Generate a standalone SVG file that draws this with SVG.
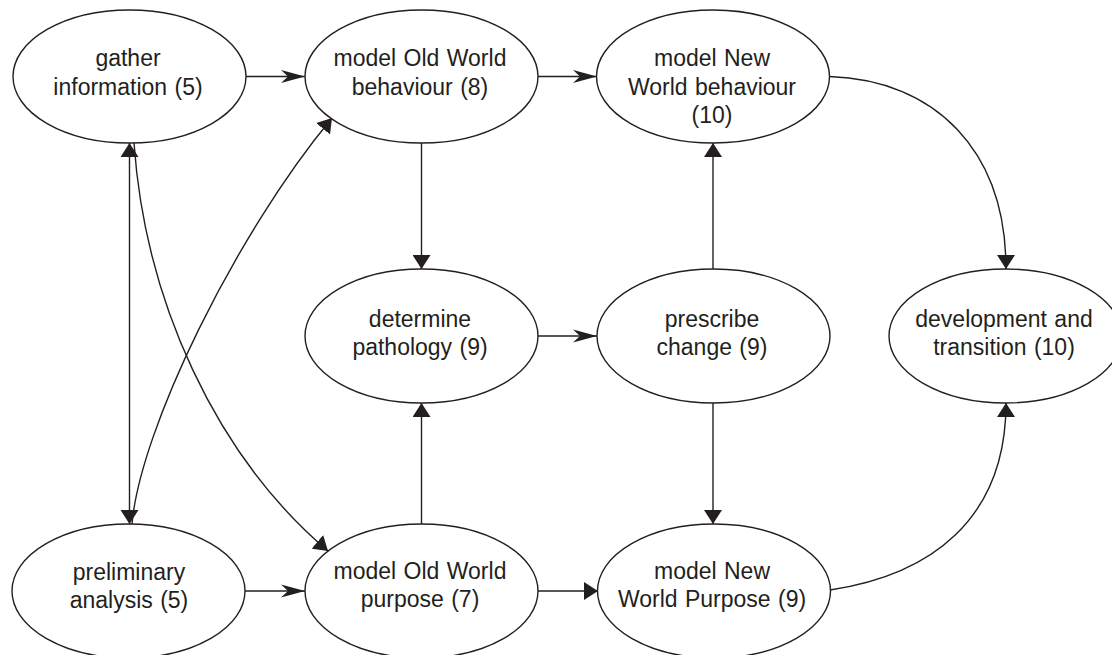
<svg xmlns="http://www.w3.org/2000/svg" width="1112" height="655" viewBox="0 0 1112 655">
  <style>
    .node ellipse { fill: #ffffff; stroke: #231f20; stroke-width: 1.4; }
    .node text { font-family: "Liberation Sans", Arial, Helvetica, sans-serif; font-size: 23px; fill: #231f20; text-anchor: middle; word-spacing: 1px; }
    .edge { fill: none; stroke: #231f20; stroke-width: 1.4; }
    .tri { marker-end: url(#tri); }
    .stealth { marker-end: url(#stealth); }
  </style>
  <defs>
    <!-- filled triangular head -->
    <marker id="tri" viewBox="0 0 14 18" refX="14" refY="9" markerWidth="14" markerHeight="18" markerUnits="userSpaceOnUse" orient="auto-start-reverse">
      <path d="M0,0 L14,9 L0,18 Z" fill="#231f20"/>
    </marker>
    <!-- notched (stealth) head -->
    <marker id="stealth" viewBox="0 0 24 14" refX="24" refY="7" markerWidth="24" markerHeight="14" markerUnits="userSpaceOnUse" orient="auto">
      <path d="M0,0.5 L24,7 L0,13.5 L7,7 Z" fill="#231f20"/>
    </marker>
  </defs>

  <rect width="1112" height="655" fill="#ffffff"/>

  <!-- connectors -->
  <g id="connectors">
    <path class="edge stealth" d="M246,76.5 H305"/>
    <path class="edge stealth" d="M538,76.5 H597"/>
    <path class="edge tri" d="M829.5,76.5 C935,80 1006,150 1006,269"/>
    <path class="edge tri" d="M421.5,143 V269"/>
    <path class="edge tri" d="M421.5,524 V403"/>
    <path class="edge stealth" d="M538,336 H597"/>
    <path class="edge tri" d="M713,269 V143"/>
    <path class="edge tri" d="M713,403 V524"/>
    <path class="edge tri" d="M830,590 C930,575 1006,520 1006,403"/>
    <path class="edge tri" d="M129.5,143 V524" marker-start="url(#tri)"/>
    <path class="edge tri" d="M134,143 C145,300 215,455 328,551"/>
    <path class="edge tri" d="M132,524 C140,430 235,235 332,118"/>
    <path class="edge stealth" d="M245,591 H305"/>
    <path class="edge tri" d="M538,591 H598"/>
  </g>

  <!-- nodes -->
  <g id="gather-information" class="node">
    <ellipse cx="129.5" cy="76.5" rx="116.5" ry="66.5"/>
    <text x="128" y="66">gather</text>
    <text x="128" y="94.5">information (5)</text>
  </g>
  <g id="model-old-world-behaviour" class="node">
    <ellipse cx="421.5" cy="76.5" rx="116.5" ry="66.5"/>
    <text x="420" y="66">model Old World</text>
    <text x="420" y="94.5">behaviour (8)</text>
  </g>
  <g id="model-new-world-behaviour" class="node">
    <ellipse cx="713" cy="76.5" rx="116.5" ry="66.5"/>
    <text x="712" y="66">model New</text>
    <text x="712" y="94.5">World behaviour</text>
    <text x="712" y="123">(10)</text>
  </g>
  <g id="determine-pathology" class="node">
    <ellipse cx="421.5" cy="336" rx="116.5" ry="67"/>
    <text x="420" y="327">determine</text>
    <text x="420" y="355">pathology (9)</text>
  </g>
  <g id="prescribe-change" class="node">
    <ellipse cx="713.5" cy="336" rx="116.5" ry="67"/>
    <text x="712" y="327">prescribe</text>
    <text x="712" y="355">change (9)</text>
  </g>
  <g id="development-and-transition" class="node">
    <ellipse cx="1005.5" cy="336" rx="116.5" ry="67"/>
    <text x="1004" y="327">development and</text>
    <text x="1004" y="355">transition (10)</text>
  </g>
  <g id="preliminary-analysis" class="node">
    <ellipse cx="128.5" cy="591" rx="116.5" ry="67"/>
    <text x="129" y="580">preliminary</text>
    <text x="129" y="608">analysis (5)</text>
  </g>
  <g id="model-old-world-purpose" class="node">
    <ellipse cx="421.5" cy="591" rx="116.5" ry="67"/>
    <text x="420" y="579">model Old World</text>
    <text x="420" y="607">purpose (7)</text>
  </g>
  <g id="model-new-world-purpose" class="node">
    <ellipse cx="714" cy="591" rx="116.5" ry="67"/>
    <text x="712" y="579">model New</text>
    <text x="712" y="607">World Purpose (9)</text>
  </g>
</svg>
